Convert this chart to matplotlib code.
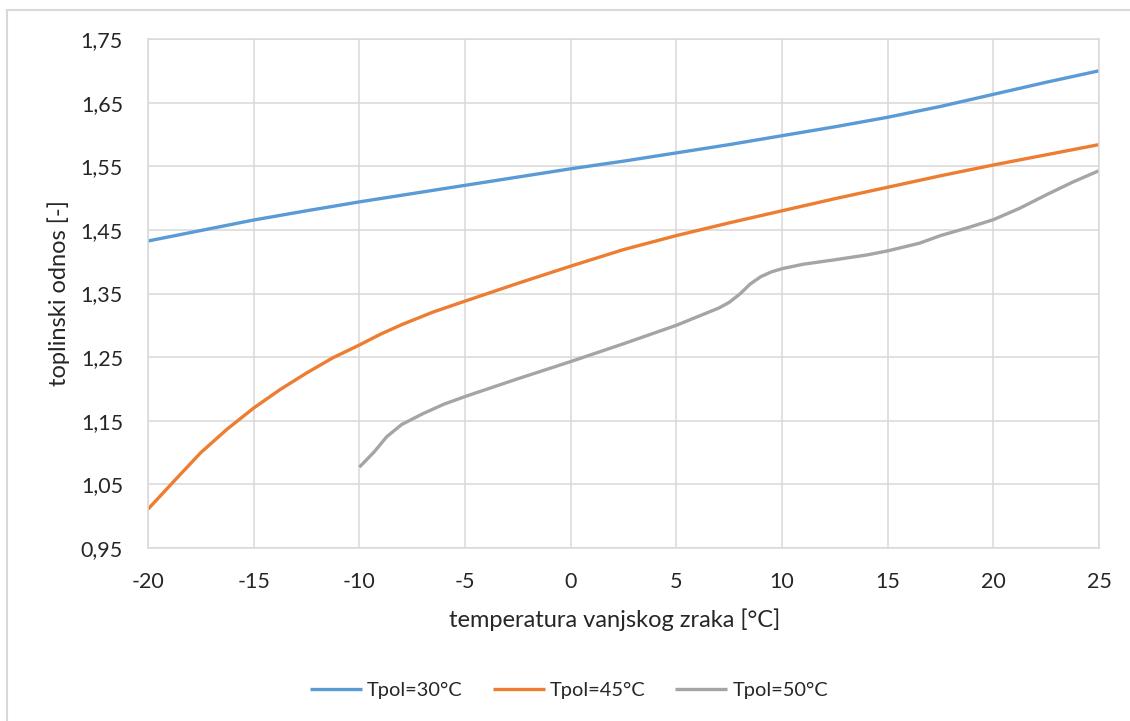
import matplotlib
matplotlib.use('Agg')
import matplotlib.pyplot as plt
from matplotlib.ticker import FuncFormatter, FixedLocator
from matplotlib.patches import Rectangle

plt.rcParams['font.family'] = ['Lato', 'DejaVu Sans']
plt.rcParams['axes.unicode_minus'] = False

# Tpol=30°C
x30 = [-20, -17.5, -15, -12.5, -10, -7.5, -5, -2.5, 0, 2.5, 5, 7.5, 10, 12.5, 15, 17.5, 20, 22.5, 25]
y30 = [1.4325, 1.449, 1.4655, 1.480, 1.494, 1.507, 1.520, 1.533, 1.546, 1.558, 1.571, 1.584,
       1.598, 1.612, 1.627, 1.644, 1.663, 1.682, 1.700]

# Tpol=45°C
x45 = [-20, -18.8, -17.5, -16.25, -15, -13.75, -12.5, -11.25, -10, -9, -8, -6.5, -5, -2.5, 0,
       2.5, 5, 7.5, 10, 12.5, 15, 17.5, 20, 22.5, 25]
y45 = [1.011, 1.054, 1.100, 1.137, 1.170, 1.199, 1.225, 1.249, 1.269, 1.286, 1.301, 1.321, 1.338,
       1.366, 1.393, 1.419, 1.441, 1.461, 1.480, 1.499, 1.517, 1.535, 1.552, 1.568, 1.584]

# Tpol=50°C
x50 = [-10, -9.3, -8.7, -8, -7, -6, -5, -2.5, 0, 2.5, 5, 6, 7, 7.5, 8, 8.5, 9, 9.5, 10, 11,
       12.5, 14, 15, 16.5, 17.5, 18.75, 20, 21.25, 22.5, 23.75, 25]
y50 = [1.077, 1.101, 1.125, 1.144, 1.161, 1.176, 1.188, 1.216, 1.243, 1.271, 1.300, 1.3135, 1.327,
       1.336, 1.349, 1.365, 1.3765, 1.384, 1.389, 1.396, 1.403, 1.4105, 1.417, 1.429, 1.441,
       1.453, 1.466, 1.484, 1.505, 1.525, 1.543]

labels = ['Tpol=30°C', 'Tpol=45°C', 'Tpol=50°C']
xticks = [-20, -15, -10, -5, 0, 5, 10, 15, 20, 25]
yticks = [0.95, 1.05, 1.15, 1.25, 1.35, 1.45, 1.55, 1.65, 1.75]
colors = ['#5B9BD5', '#ED7D31', '#A5A5A5']
txt = '#262626'
grid_c = '#D9D9D9'

fig = plt.figure(figsize=(11.3, 7.21), dpi=100)
# chart border
fig.patches.append(Rectangle((7 / 1130, -0.05), 1.2, 1 - 10 / 721 + 0.05, transform=fig.transFigure,
                             fill=False, edgecolor=grid_c, lw=1.5))
ax = fig.add_axes([148 / 1130, 1 - 548 / 721, (1099 - 148) / 1130, (548 - 39) / 721])

ax.plot(x30, y30, color=colors[0], lw=2.4, label=labels[0], solid_capstyle='butt', solid_joinstyle='round')
ax.plot(x45, y45, color=colors[1], lw=2.4, label=labels[1], solid_capstyle='butt', solid_joinstyle='round')
ax.plot(x50, y50, color=colors[2], lw=2.4, label=labels[2], solid_capstyle='butt', solid_joinstyle='round')

ax.set_xlim(-20, 25)
ax.set_ylim(0.95, 1.75)
ax.xaxis.set_major_locator(FixedLocator(xticks))
ax.yaxis.set_major_locator(FixedLocator(yticks))
ax.yaxis.set_major_formatter(FuncFormatter(lambda v, p: f'{v:.2f}'.replace('.', ',')))
ax.grid(True, color=grid_c, lw=1.1)
ax.set_axisbelow(True)
for s in ax.spines.values():
    s.set_color(grid_c)
    s.set_linewidth(1.1)
ax.tick_params(length=0, labelsize=15.5, colors=txt)
ax.tick_params(axis='x', pad=17)
ax.tick_params(axis='y', pad=18)

fig.text(615 / 1130, 1 - 620 / 721, 'temperatura vanjskog zraka [°C]', ha='center', va='center',
         fontsize=17, color=txt)
fig.text(59 / 1130, 1 - 293 / 721, 'toplinski odnos [-]', ha='center', va='center',
         rotation=90, fontsize=17, color=txt)

fig.legend(loc='center', bbox_to_anchor=(569 / 1130, 1 - 690 / 721), ncol=3, frameon=False,
           fontsize=14.4, handlelength=2.6, handletextpad=0.25, columnspacing=1.5,
           labelcolor=txt)

fig.savefig('out.png', dpi=100)
